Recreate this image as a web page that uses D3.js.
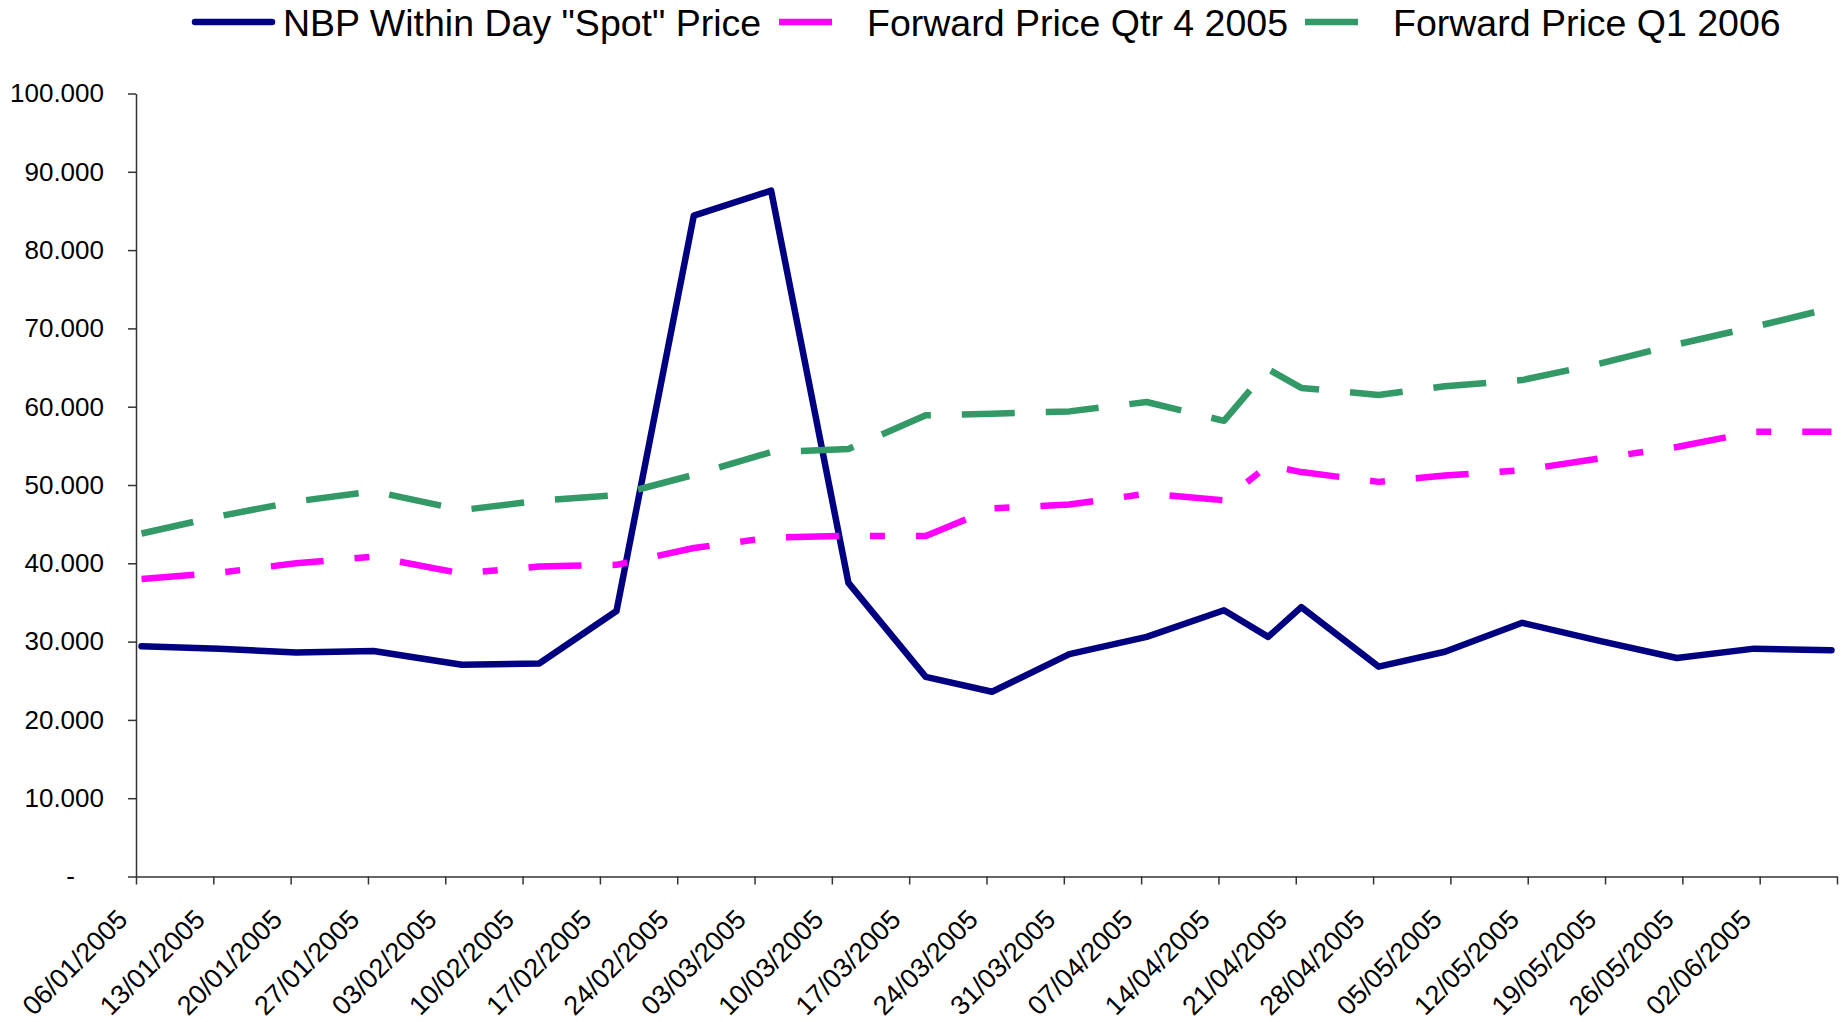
<!DOCTYPE html>
<html>
<head>
<meta charset="utf-8">
<script src="https://cdn.jsdelivr.net/npm/d3@7"></script>
<style>
  body { margin: 0; background: #fff; }
  text { font-family: "Liberation Sans", Arial, sans-serif; fill: #000; }
</style>
</head>
<body>
<div id="root"></div>
<script>
"use strict";

// weekly observations (dd/mm/yyyy)
const dates = [
  "06/01/2005", "13/01/2005", "20/01/2005", "27/01/2005", "04/02/2005", "11/02/2005",
  "18/02/2005", "25/02/2005", "04/03/2005", "11/03/2005", "18/03/2005", "24/03/2005",
  "31/03/2005", "07/04/2005", "14/04/2005", "18/04/2005", "21/04/2005", "28/04/2005",
  "04/05/2005", "11/05/2005", "18/05/2005", "25/05/2005", "01/06/2005", "08/06/2005",
];
const spotPrice = [
  29.4, 29.1, 28.6, 28.8, 27.05, 27.2, 33.9, 84.4, 87.6, 37.5, 25.5, 23.6,
  28.4, 30.6, 34.0, 30.6, 34.4, 26.8, 28.7, 32.4, 30.1, 27.9, 29.1, 28.9,
];
const forwardQ4 = [
  38.0, 38.8, 40.0, 40.85, 38.7, 39.6, 39.8, 41.95, 43.3, 43.5, 43.5, 47.0,
  47.5, 48.9, 48.05, 52.5, 51.65, 50.4, 51.2, 51.9, 53.4, 54.85, 56.8, 56.8,
];
const forwardQ1 = [
  43.8, 46.0, 47.9, 49.2, 46.8, 48.0, 48.7, 51.3, 54.2, 54.6, 58.9, 59.1,
  59.4, 60.6, 58.2, 64.8, 62.4, 61.5, 62.6, 63.4, 65.5, 67.95, 70.2, 72.6,
];
const seriesNames = ['NBP Within Day "Spot" Price', "Forward Price Qtr 4 2005", "Forward Price Q1 2006"];
const xTickLabels = [
  "06/01/2005", "13/01/2005", "20/01/2005", "27/01/2005", "03/02/2005", "10/02/2005",
  "17/02/2005", "24/02/2005", "03/03/2005", "10/03/2005", "17/03/2005", "24/03/2005",
  "31/03/2005", "07/04/2005", "14/04/2005", "21/04/2005", "28/04/2005", "05/05/2005",
  "12/05/2005", "19/05/2005", "26/05/2005", "02/06/2005", "09/06/2005",
];
const yTicks = [0, 10, 20, 30, 40, 50, 60, 70, 80, 90, 100];
const yTickLabels = ["-", "10.000", "20.000", "30.000", "40.000", "50.000", "60.000", "70.000", "80.000", "90.000", "100.000"];

const width = 1843;
const height = 1022;
const plotLeft = 136;
const plotRight = 1837;
const plotTop = 93.5;
const plotBottom = 876.5;
const lineWidth = 6.5;

const styles = [
  { color: "#000080", dash: null, cap: "round" },
  { color: "#ff00ff", dash: "53,31,15,31", cap: "butt" },
  { color: "#339966", dash: "53,31", cap: "butt" },
];

const parse = d3.timeParse("%d/%m/%Y");
const tickDates = xTickLabels.map(parse);

const ScaleX = d3.scaleTime()
  .domain([tickDates[0], tickDates[tickDates.length - 1]])
  .range([plotLeft, plotRight]);

const ScaleY = d3.scaleLinear().domain([0, 100]).range([plotBottom, plotTop]);

// points sit in the middle of their day slot
const pointX = (s) => ScaleX(d3.timeHour.offset(parse(s), 12));

const svg = d3.select("#root")
  .append("svg")
  .attr("width", width)
  .attr("height", height)
  .style("display", "block");

svg.append("rect").attr("width", width).attr("height", height).attr("fill", "#fff");

// axes
const yAxis = d3.axisLeft(ScaleY)
  .tickValues(yTicks)
  .tickSize(8)
  .tickSizeOuter(0)
  .tickPadding(24)
  .tickFormat((d, i) => yTickLabels[i]);

const gy = svg.append("g")
  .attr("transform", `translate(${plotLeft},0)`)
  .call(yAxis);
gy.attr("font-family", null).attr("font-size", null);
gy.selectAll("text").style("font-size", "26px");
gy.selectAll(".tick").filter((d) => d === 0).select("text").attr("dx", -29);

const xAxis = d3.axisBottom(ScaleX)
  .tickValues(tickDates)
  .tickSize(8)
  .tickSizeOuter(0)
  .tickFormat((d, i) => (i < xTickLabels.length - 1 ? xTickLabels[i] : ""));

const gx = svg.append("g")
  .attr("transform", `translate(0,${plotBottom})`)
  .call(xAxis);
gx.attr("font-family", null).attr("font-size", null);
gx.selectAll("text")
  .style("font-size", "27px")
  .attr("text-anchor", "end")
  .attr("y", 0)
  .attr("dy", "0.35em")
  .attr("transform", "translate(-14,38) rotate(-45)");

svg.selectAll(".domain, .tick line").attr("stroke", "#333").attr("stroke-width", 1.5);
svg.selectAll(".tick text").attr("fill", "#000");

// lines
const series = [spotPrice, forwardQ4, forwardQ1];
const line = d3.line()
  .x((d, i) => pointX(dates[i]))
  .y((d) => ScaleY(d));

series.forEach((values, k) => {
  svg.append("path")
    .datum(values)
    .attr("fill", "none")
    .attr("stroke", styles[k].color)
    .attr("stroke-width", lineWidth)
    .attr("stroke-linejoin", "round")
    .attr("stroke-linecap", styles[k].cap)
    .attr("stroke-dasharray", styles[k].dash)
    .attr("d", line);
});

// legend
const legendX = [195, 779, 1305];
const legend = svg.append("g");
seriesNames.forEach((name, k) => {
  const x0 = legendX[k];
  legend.append("line")
    .attr("x1", x0).attr("x2", x0 + 77)
    .attr("y1", 22).attr("y2", 22)
    .attr("stroke", styles[k].color)
    .attr("stroke-width", lineWidth)
    .attr("stroke-linecap", styles[k].cap)
    .attr("stroke-dasharray", styles[k].dash);
  legend.append("text")
    .attr("x", x0 + 88)
    .attr("y", 35.5)
    .style("font-size", "37.5px")
    .text(name);
});
</script>
</body>
</html>
